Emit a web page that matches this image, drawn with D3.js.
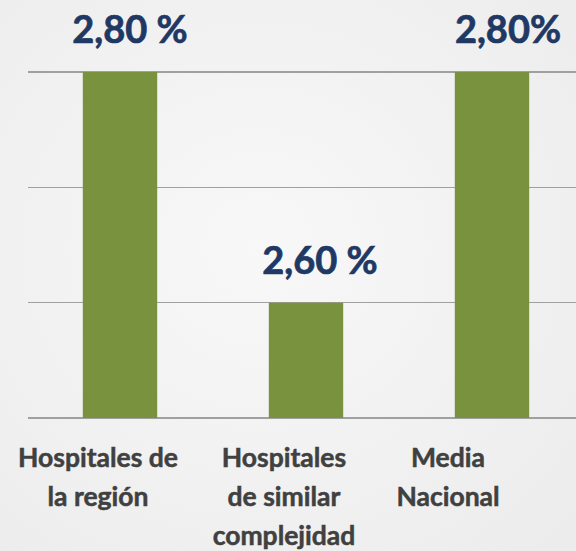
<!DOCTYPE html>
<meta charset="utf-8">
<style>
body { margin: 0; background: #f4f4f4; }
svg { display: block; }
.grid line { stroke: #a0a0a0; stroke-width: 1.5; shape-rendering: crispEdges; }
.value { font: bold 38px Lato, sans-serif; fill: #1f3864; stroke: #1f3864; stroke-width: 0.7; text-anchor: middle; }
.cat { font: bold 26.5px Lato, sans-serif; fill: #404040; stroke: #404040; stroke-width: 0.5; text-anchor: middle; }
</style>
<body>
<script src="https://d3js.org/d3.v7.min.js"></script>
<script>

var categories = ["Hospitales de la región", "Hospitales de similar complejidad", "Media Nacional"];
var catLines = [["Hospitales de", "la región"], ["Hospitales", "de similar", "complejidad"], ["Media", "Nacional"]];
var values = [2.80, 2.60, 2.80];
var valueLabels = ["2,80 %", "2,60 %", "2,80%"];
var gridTicks = [2.5, 2.6, 2.7, 2.8];

var width = 576, height = 551;

var svg = d3.select("body").append("svg")
    .attr("width", width)
    .attr("height", height);

var grad = svg.append("defs").append("radialGradient")
    .attr("id", "bg").attr("cx", "45%").attr("cy", "45%").attr("r", "75%");
grad.append("stop").attr("offset", "0%").attr("stop-color", "#f8f8f8");
grad.append("stop").attr("offset", "100%").attr("stop-color", "#ececec");
svg.append("rect").attr("width", width).attr("height", height).attr("fill", "url(#bg)");

var x = d3.scaleBand()
    .domain(categories)
    .range([27, 585])
    .paddingInner(0.6)
    .paddingOuter(0.3);

var y = d3.scaleLinear()
    .domain([2.5, 2.8])
    .range([418, 72]);

svg.append("g")
    .attr("class", "grid")
  .selectAll("line")
    .data(gridTicks)
  .enter().append("line")
    .attr("x1", 28)
    .attr("x2", width)
    .attr("y1", function(d) { return y(d); })
    .attr("y2", function(d) { return y(d); });

svg.selectAll(".bar")
    .data(values)
  .enter().append("rect")
    .attr("class", "bar")
    .attr("x", function(d, i) { return x(categories[i]); })
    .attr("width", x.bandwidth())
    .attr("y", function(d) { return y(d); })
    .attr("height", function(d) { return y(2.5) - y(d); })
    .attr("fill", "#78923e");

// value labels sit a bit right of centre, as in the original slide
var valueShift = [10, 14, 16];
svg.selectAll(".value")
    .data(values)
  .enter().append("text")
    .attr("class", "value")
    .attr("x", function(d, i) { return x(categories[i]) + x.bandwidth() / 2 + valueShift[i]; })
    .attr("y", function(d) { return y(d) - 29; })
    .text(function(d, i) { return valueLabels[i]; });

// category labels are drawn a bit left of the bars
var labelShift = [-22, -22, -44];
var cat = svg.selectAll(".cat")
    .data(categories)
  .enter().append("text")
    .attr("class", "cat")
    .attr("x", function(d, i) { return x(d) + x.bandwidth() / 2 + labelShift[i]; })
    .attr("y", 467);

cat.selectAll("tspan")
    .data(function(d, i) { return catLines[i]; })
  .enter().append("tspan")
    .attr("x", function() { return d3.select(this.parentNode).attr("x"); })
    .attr("dy", function(d, j) { return j === 0 ? 0 : 39; })
    .text(function(d) { return d; });

</script>
